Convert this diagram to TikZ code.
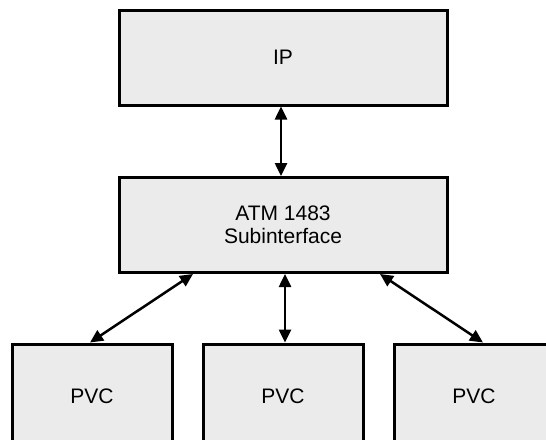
\documentclass[tikz,border=0pt]{standalone}
\usepackage{fontspec}
\setmainfont{Liberation Sans}
\usetikzlibrary{arrows.meta}
\definecolor{boxfill}{HTML}{EBEBEB}
\begin{document}
\begin{tikzpicture}[x=1pt,y=-1pt,
  blk/.style={draw=black,fill=boxfill,line width=3pt,inner sep=0pt,
    font=\fontsize{21}{23}\selectfont,align=center},
  wide/.style={blk,minimum width=328pt,minimum height=95pt},
  pvc/.style={blk,minimum width=160pt,minimum height=104pt},
  link/.style={line width=2.5pt,{Triangle[length=13pt,width=12pt]}-{Triangle[length=13pt,width=12pt]}}]
\useasboundingbox (0,0) rectangle (546,439);
\clip (0,0) rectangle (546,439);
\node[wide] (ip) at (283,57.5) {IP};
\node[wide] (atm) at (283,225) {ATM 1483\\Subinterface};
\node[pvc] (p1) at (92,396) {PVC};
\node[pvc] (p2) at (283,396) {PVC};
\node[pvc] (p3) at (474,396) {PVC};
\draw[link] ([xshift=-2pt]ip.south) -- ([xshift=-2pt]atm.north);
\draw[link] ([xshift=-90pt]atm.south) -- ([xshift=-2pt]p1.north);
\draw[link] ([xshift=2pt]atm.south) -- ([xshift=2pt]p2.north);
\draw[link] ([xshift=97pt]atm.south) -- ([xshift=9pt]p3.north);
\end{tikzpicture}
\end{document}
